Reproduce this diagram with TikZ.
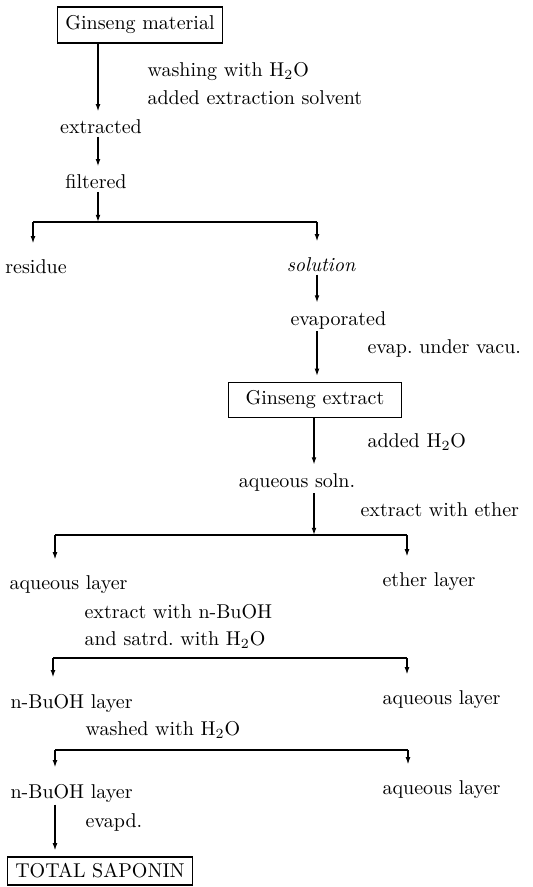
\documentclass[tikz,border=0pt]{standalone}
\usetikzlibrary{positioning,calc,arrows.meta}
\begin{document}
\begin{tikzpicture}[x=0.5pt, y=-0.5pt, >={Latex[length=3.6pt,width=2.4pt]}, semithick,
    every node/.style={inner sep=1pt},
    note/.style={anchor=west},
    boxed/.style={draw, inner sep=3pt},
    flow/.style={->, shorten >=3pt},
    branch/.style={->, shorten >=7pt}]
    \useasboundingbox (0,0) rectangle (532,887);

    % Extraction of the material
    \node[boxed, minimum width=82.5pt, minimum height=18pt] (mat) at (140,25) {Ginseng material};
    \node[note] (wash) at (145,72) {washing with H$_2$O};
    \node[note] (solv) at (145,98) {added extraction solvent};
    \node (extr) at (101,127) {extracted};
    \node (filt) at (96,182) {filtered};
    \coordinate (s1) at (98,222);
    \draw[flow] (mat.south -| s1) -- (s1 |- extr.north);
    \draw[flow] (s1 |- extr.south) -- (s1 |- filt.north);
    \draw[->] (s1 |- filt.south) -- (s1);

    % First split
    \coordinate (b1l) at (33,222);
    \coordinate (b1r) at (317,222);
    \node (resid) at (36,267) {residue};
    \node (soln) at (321,265) {\itshape solution};
    \draw (b1l) -- (b1r);
    \draw[branch] (b1l) -- (b1l |- resid.north);
    \draw[branch] (b1r) -- (b1r |- soln.north);

    % Solution to extract
    \node[note] (evap) at (288,320) {evaporated};
    \node[note] (vacu) at (365,348) {evap.\ under vacu.};
    \node[boxed, minimum width=86.5pt, minimum height=17.5pt] (gext) at (315,400) {Ginseng extract};
    \node[note] (addw) at (365,442) {added H$_2$O};
    \node (aqs) at (297,482) {aqueous soln.};
    \node[note] (ethx) at (358,510) {extract with ether};
    \coordinate (s2) at (314,535);
    \draw[flow] (b1r |- soln.south) -- (b1r |- evap.north);
    \draw[flow] (b1r |- evap.south) -- (b1r |- gext.north);
    \draw[flow] (s2 |- gext.south) -- (s2 |- aqs.north);
    \draw[->] (s2 |- aqs.south) -- (s2);

    % Ether partition
    \coordinate (b2l) at (55,535);
    \coordinate (b2r) at (407,535);
    \node[note] (aql) at (7,585) {aqueous layer};
    \node[note] (ethl) at (380,582) {ether layer};
    \draw (b2l) -- (b2r);
    \draw[branch] (b2l) -- (b2l |- aql.north);
    \draw[branch] (b2r) -- (b2r |- ethl.north);

    % n-BuOH partition
    \node[note] (buox) at (82,612) {extract with n-BuOH};
    \node[note] (satd) at (82,640) {and satrd.\ with H$_2$O};
    \coordinate (b3l) at (53,658);
    \coordinate (b3r) at (407,658);
    \node[note] (bul1) at (8,703) {n-BuOH layer};
    \node[note] (aql2) at (380,700) {aqueous layer};
    \draw (b3l) -- (b3r);
    \draw[branch] (b3l) -- (b3l |- bul1.north);
    \draw[branch] (b3r) -- (b3r |- aql2.north);

    % Washing
    \node[note] (wsh) at (83,730) {washed with H$_2$O};
    \coordinate (b4l) at (55,750);
    \coordinate (b4r) at (408,750);
    \node[note] (bul2) at (8,793) {n-BuOH layer};
    \node[note] (aql3) at (380,790) {aqueous layer};
    \draw (b4l) -- (b4r);
    \draw[branch] (b4l) -- (b4l |- bul2.north);
    \draw[branch] (b4r) -- (b4r |- aql3.north);

    % Final product
    \node[note] (evpd) at (83,822) {evapd.};
    \node[boxed, minimum width=92.5pt, minimum height=14pt] (total) at (100,871) {TOTAL SAPONIN};
    \draw[flow] (b4l |- bul2.south) -- (b4l |- total.north);
\end{tikzpicture}
\end{document}
